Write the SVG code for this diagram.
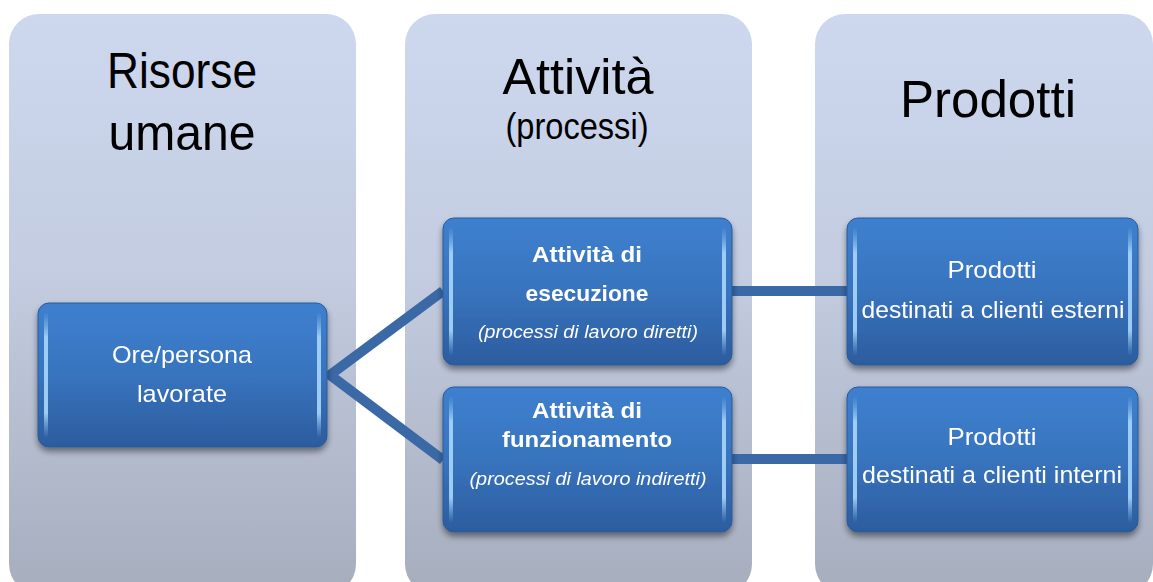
<svg xmlns="http://www.w3.org/2000/svg" width="1153" height="582" viewBox="0 0 1153 582">
<defs>
<linearGradient id="panelG" x1="0" y1="0" x2="0" y2="1">
<stop offset="0" stop-color="#CDD8EF"/>
<stop offset="0.45" stop-color="#C3CCE0"/>
<stop offset="1" stop-color="#A6ADBD"/>
</linearGradient>
<linearGradient id="boxG" x1="0" y1="0" x2="0" y2="1">
<stop offset="0" stop-color="#3E80CF"/>
<stop offset="0.5" stop-color="#3874BE"/>
<stop offset="1" stop-color="#2C5C9E"/>
</linearGradient>
<linearGradient id="edgeG" x1="0" y1="0" x2="0" y2="1">
<stop offset="0" stop-color="#8EC4F2" stop-opacity="0"/>
<stop offset="0.2" stop-color="#A9D6FA" stop-opacity="0.9"/>
<stop offset="0.8" stop-color="#A9D6FA" stop-opacity="0.9"/>
<stop offset="1" stop-color="#8EC4F2" stop-opacity="0"/>
</linearGradient>
<filter id="sh" x="-10%" y="-10%" width="120%" height="130%">
<feGaussianBlur in="SourceAlpha" stdDeviation="3"/>
<feOffset dy="4"/>
<feComponentTransfer><feFuncA type="linear" slope="0.45"/></feComponentTransfer>
<feMerge><feMergeNode/><feMergeNode in="SourceGraphic"/></feMerge>
</filter>
</defs>
<style>
.panel{fill:url(#panelG)}
.head{font-family:"Liberation Sans",Arial,sans-serif;fill:#000;text-anchor:middle}
.box{fill:url(#boxG);stroke:#2A5A98;stroke-width:1}
.edge{fill:url(#edgeG)}
.t{font-family:"Liberation Sans",Arial,sans-serif;fill:#fff;text-anchor:middle}
.b{font-weight:bold}
.i{font-style:italic}
.conn{stroke:#3A69A6;stroke-width:10;fill:none;stroke-linejoin:miter}
</style>
<rect width="1153" height="582" fill="#fff"/>
<g id="panel-risorse">
<rect class="panel" x="9" y="14" width="347" height="580" rx="30"/>
<text class="head" x="182" y="88" font-size="50" textLength="150" lengthAdjust="spacingAndGlyphs">Risorse</text>
<text class="head" x="182" y="150" font-size="50" textLength="147" lengthAdjust="spacingAndGlyphs">umane</text>
</g>
<g id="panel-attivita">
<rect class="panel" x="405" y="14" width="347" height="580" rx="30"/>
<text class="head" x="578" y="94" font-size="50" textLength="151" lengthAdjust="spacingAndGlyphs">Attività</text>
<text class="head" x="577" y="139" font-size="36" textLength="143" lengthAdjust="spacingAndGlyphs">(processi)</text>
</g>
<g id="panel-prodotti">
<rect class="panel" x="815" y="14" width="338" height="580" rx="30"/>
<text class="head" x="988" y="117" font-size="52" textLength="176" lengthAdjust="spacingAndGlyphs">Prodotti</text>
</g>
<g id="connectors">
<polyline class="conn" points="443,291 330,375 443,460"/>
<line class="conn" x1="730" y1="291" x2="849" y2="291"/>
<line class="conn" x1="730" y1="459" x2="849" y2="459"/>
</g>
<g id="node-ore" filter="url(#sh)">
<rect class="box" x="38" y="303" width="289" height="144" rx="11"/>
<rect class="edge" x="44" y="312" width="4" height="126" rx="2"/>
<rect class="edge" x="317" y="312" width="4" height="126" rx="2"/>
<text class="t" x="182" y="363" font-size="24" textLength="140" lengthAdjust="spacingAndGlyphs">Ore/persona</text>
<text class="t" x="182" y="402" font-size="24" textLength="90" lengthAdjust="spacingAndGlyphs">lavorate</text>
</g>
<g id="node-esecuzione" filter="url(#sh)">
<rect class="box" x="443" y="218" width="289" height="147" rx="11"/>
<rect class="edge" x="449" y="227" width="4" height="129" rx="2"/>
<rect class="edge" x="722" y="227" width="4" height="129" rx="2"/>
<text class="t b" x="587" y="262" font-size="22" textLength="110" lengthAdjust="spacingAndGlyphs">Attività di</text>
<text class="t b" x="587" y="301" font-size="22" textLength="123" lengthAdjust="spacingAndGlyphs">esecuzione</text>
<text class="t i" x="588" y="338" font-size="18" textLength="220" lengthAdjust="spacingAndGlyphs">(processi di lavoro diretti)</text>
</g>
<g id="node-funzionamento" filter="url(#sh)">
<rect class="box" x="443" y="387" width="289" height="145" rx="11"/>
<rect class="edge" x="449" y="396" width="4" height="127" rx="2"/>
<rect class="edge" x="722" y="396" width="4" height="127" rx="2"/>
<text class="t b" x="587" y="418" font-size="22" textLength="110" lengthAdjust="spacingAndGlyphs">Attività di</text>
<text class="t b" x="587" y="447" font-size="22" textLength="170" lengthAdjust="spacingAndGlyphs">funzionamento</text>
<text class="t i" x="588" y="485" font-size="18" textLength="237" lengthAdjust="spacingAndGlyphs">(processi di lavoro indiretti)</text>
</g>
<g id="node-esterni" filter="url(#sh)">
<rect class="box" x="847" y="218" width="291" height="147" rx="11"/>
<rect class="edge" x="853" y="227" width="4" height="129" rx="2"/>
<rect class="edge" x="1128" y="227" width="4" height="129" rx="2"/>
<text class="t" x="992" y="278" font-size="24" textLength="89" lengthAdjust="spacingAndGlyphs">Prodotti</text>
<text class="t" x="993" y="318" font-size="24" textLength="263" lengthAdjust="spacingAndGlyphs">destinati a clienti esterni</text>
</g>
<g id="node-interni" filter="url(#sh)">
<rect class="box" x="847" y="387" width="291" height="145" rx="11"/>
<rect class="edge" x="853" y="396" width="4" height="127" rx="2"/>
<rect class="edge" x="1128" y="396" width="4" height="127" rx="2"/>
<text class="t" x="992" y="445" font-size="24" textLength="89" lengthAdjust="spacingAndGlyphs">Prodotti</text>
<text class="t" x="992" y="483" font-size="24" textLength="260" lengthAdjust="spacingAndGlyphs">destinati a clienti interni</text>
</g>
</svg>
